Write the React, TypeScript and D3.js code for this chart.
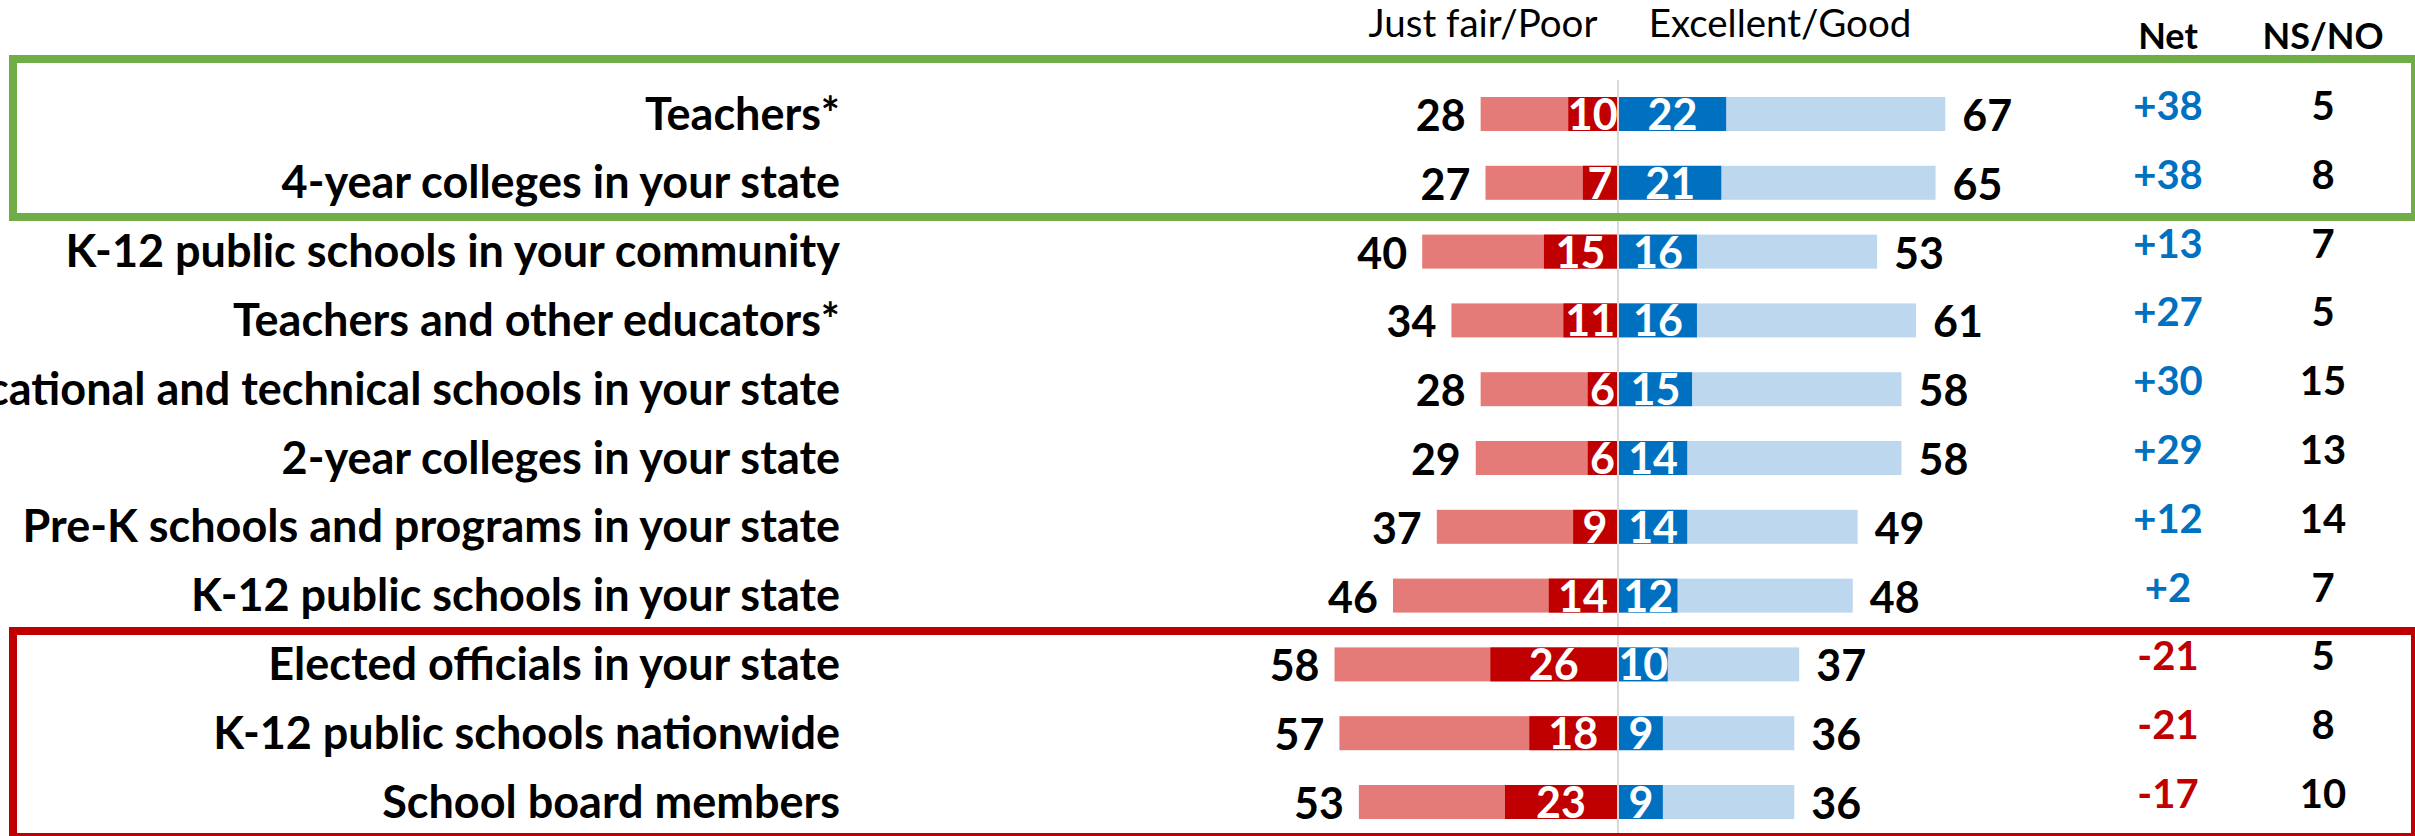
import React from "react";
import * as d3 from "d3";

const categories = [
  "Teachers*",
  "4-year colleges in your state",
  "K-12 public schools in your community",
  "Teachers and other educators*",
  "Vocational and technical schools in your state",
  "2-year colleges in your state",
  "Pre-K schools and programs in your state",
  "K-12 public schools in your state",
  "Elected officials in your state",
  "K-12 public schools nationwide",
  "School board members",
];
const poorTotal = [28, 27, 40, 34, 28, 29, 37, 46, 58, 57, 53];
const poorStrong = [10, 7, 15, 11, 6, 6, 9, 14, 26, 18, 23];
const goodStrong = [22, 21, 16, 16, 15, 14, 14, 12, 10, 9, 9];
const goodTotal = [67, 65, 53, 61, 58, 58, 49, 48, 37, 36, 36];
const netValues = [38, 38, 13, 27, 30, 29, 12, 2, -21, -21, -17];
const nsnoValues = [5, 8, 7, 5, 15, 13, 14, 7, 5, 8, 10];
const headers = { poor: "Just fair/Poor", good: "Excellent/Good", net: "Net", nsno: "NS/NO" };

const W = 2415;
const H = 836;
const FONT = "Lato, 'Open Sans', sans-serif";
const C = {
  lightRed: "#E57B78",
  darkRed: "#C00000",
  blue: "#0070C0",
  lightBlue: "#BDD7EE",
  green: "#70AD47",
  boxRed: "#C00000",
  mid: "#D9D9D9",
};

export default function App() {
  const leftZero = 1617;
  const rightZero = 1619;
  const len = d3.scaleLinear().domain([0, 100]).range([0, 487]);
  const y = d3.scalePoint<string>().domain(categories).range([114, 802]);
  const barH = 34;
  const labelSize = 45;
  const numSize = 43;
  const netSize = 40;

  return (
    <div style={{ position: "absolute", left: 0, top: 0, width: W, height: H, background: "#fff" }}>
      <svg width={W} height={H} style={{ display: "block" }} fontFamily={FONT}>
        <rect x={0} y={0} width={W} height={H} fill="#fff" />
        {/* headers */}
        <text x={1483} y={37} textAnchor="middle" fontSize={38.5} fill="#000">{headers.poor}</text>
        <text x={1780} y={37} textAnchor="middle" fontSize={38.5} fill="#000">{headers.good}</text>
        <text x={2168} y={49} textAnchor="middle" fontSize={36} fontWeight={700} fill="#000">{headers.net}</text>
        <text x={2323} y={49} textAnchor="middle" fontSize={36} fontWeight={700} fill="#000">{headers.nsno}</text>

        {categories.map((cat, i) => {
          const cy = y(cat) as number;
          const pT = len(poorTotal[i]);
          const pS = len(poorStrong[i]);
          const gS = len(goodStrong[i]);
          const gT = len(goodTotal[i]);
          const net = netValues[i];
          return (
            <g key={cat}>
              <text x={840} y={cy + 15.5} textAnchor="end" fontSize={labelSize} fontWeight={700} fill="#000">{cat}</text>
              <rect x={leftZero - pT} y={cy - barH / 2} width={pT} height={barH} fill={C.lightRed} />
              <rect x={leftZero - pS} y={cy - barH / 2} width={pS} height={barH} fill={C.darkRed} />
              <rect x={rightZero} y={cy - barH / 2} width={gT} height={barH} fill={C.lightBlue} />
              <rect x={rightZero} y={cy - barH / 2} width={gS} height={barH} fill={C.blue} />
              <text x={leftZero - pS / 2} y={cy + 16} textAnchor="middle" fontSize={numSize} fontWeight={700} fill="#fff">{poorStrong[i]}</text>
              <text x={rightZero + gS / 2} y={cy + 16} textAnchor="middle" fontSize={numSize} fontWeight={700} fill="#fff">{goodStrong[i]}</text>
              <text x={leftZero - pT - 15} y={cy + 17} textAnchor="end" fontSize={numSize} fontWeight={700} fill="#000">{poorTotal[i]}</text>
              <text x={rightZero + gT + 17} y={cy + 17} textAnchor="start" fontSize={numSize} fontWeight={700} fill="#000">{goodTotal[i]}</text>
              <text x={2168} y={cy + 6} textAnchor="middle" fontSize={netSize} fontWeight={700} fill={net >= 0 ? C.blue : C.darkRed}>{net > 0 ? `+${net}` : `${net}`}</text>
              <text x={2323} y={cy + 6} textAnchor="middle" fontSize={netSize} fontWeight={700} fill="#000">{nsnoValues[i]}</text>
            </g>
          );
        })}

        <line x1={1618} x2={1618} y1={80} y2={H} stroke={C.mid} strokeWidth={2} />

        <rect x={13} y={59} width={2402} height={158} fill="none" stroke={C.green} strokeWidth={8} />
        <rect x={13} y={631} width={2402} height={206} fill="none" stroke={C.boxRed} strokeWidth={8} />
      </svg>
    </div>
  );
}
